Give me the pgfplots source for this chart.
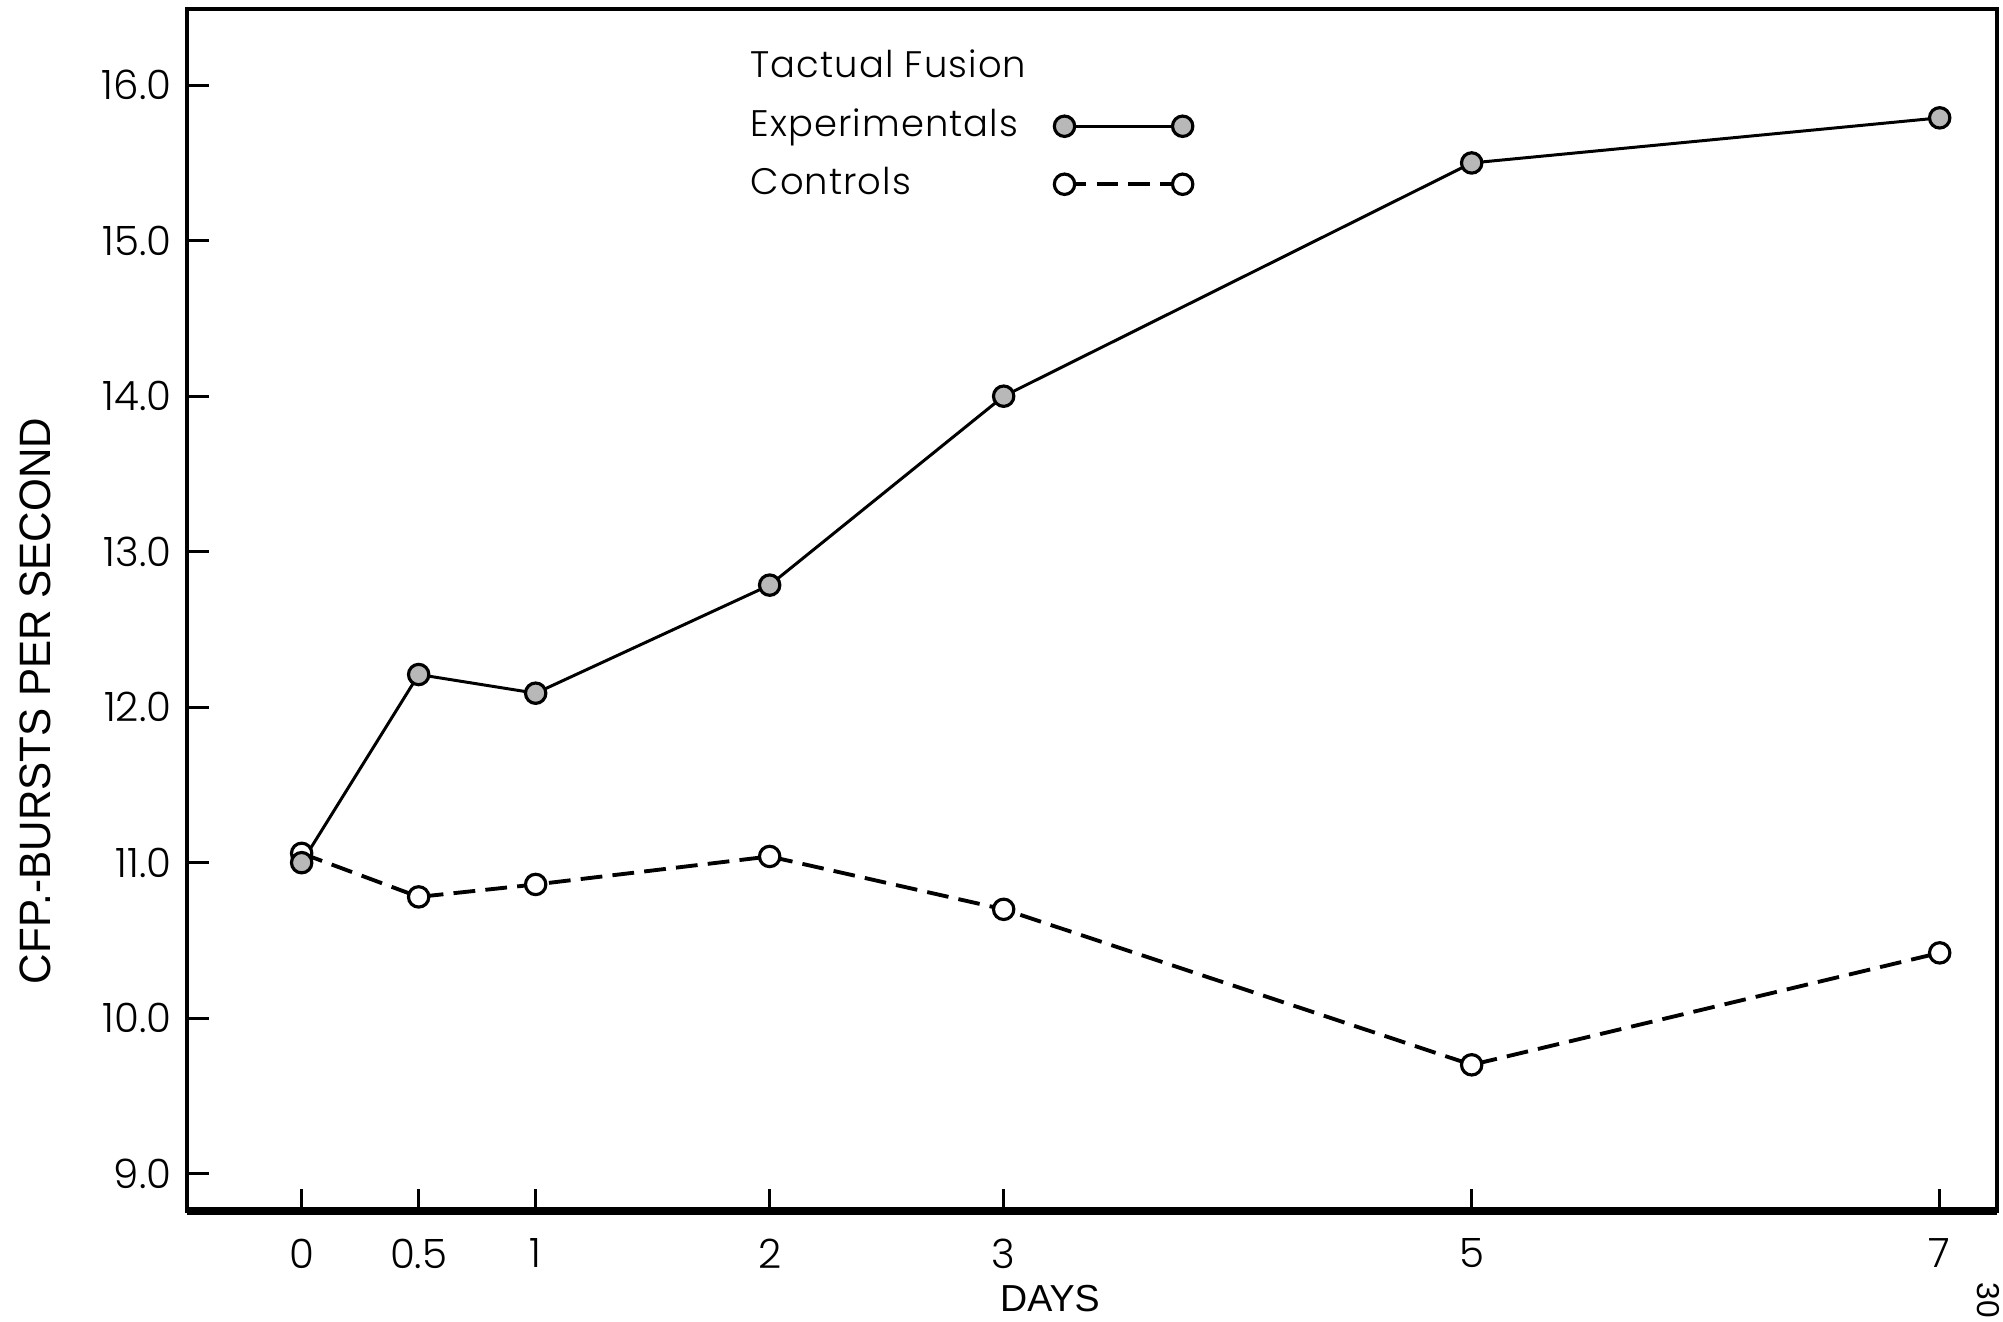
\documentclass[border=0pt]{standalone}
\usepackage{fontspec}
\setmainfont{Poppins}
\newfontfamily\tickfont{Poppins Light}
\newfontfamily\lib{Liberation Sans}
\newfontfamily\legfont{Poppins Light}[LetterSpace=3]
\usepackage{graphicx}
\usepackage{pgfplots}
\pgfplotsset{compat=1.18}
\definecolor{markgray}{gray}{0.72}
\begin{document}
\begin{tikzpicture}
\useasboundingbox (0,0) rectangle (20.03cm,13.22cm);
\begin{axis}[
  at={(1.87cm,1.11cm)}, anchor=south west,
  scale only axis, width=18.10cm, height=12.02cm,
  xmin=-0.49, xmax=7.245, ymin=8.76, ymax=16.49,
  xtick={0,0.5,1,2,3,5,7},
  xticklabels={0,0.5,1,2,3,5,7},
  ytick={9,10,11,12,13,14,15,16},
  yticklabels={9.0,10.0,11.0,12.0,13.0,14.0,15.0,16.0},
  xtick pos=bottom, ytick pos=left,
  tick align=inside,
  major tick length=0.22cm,
  every tick/.style={black, line width=0.8pt},
  axis line style={line width=1pt},
  tick label style={font=\tickfont\fontsize{11.5}{13}\selectfont, inner sep=0pt},
  yticklabel style={xshift=-0.15cm},
  xticklabel style={yshift=-0.27cm},
  clip=false,
]
% Controls
\addplot[black, line width=1.1pt, dash pattern=on 6.2pt off 2.9pt,
  mark=*, mark size=2.9pt, mark options={solid, fill=white, line width=0.9pt}]
  coordinates {(0,11.06) (0.5,10.78) (1,10.86) (2,11.04) (3,10.70) (5,9.70) (7,10.42)};
% Experimentals
\addplot[black, line width=0.85pt,
  mark=*, mark size=2.9pt, mark options={fill=markgray, line width=0.9pt}]
  coordinates {(0,11.0) (0.5,12.21) (1,12.09) (2,12.785) (3,14.0) (5,15.50) (7,15.79)};
% legend samples
\addplot[black, line width=0.85pt,
  mark=*, mark size=2.9pt, mark options={fill=markgray, line width=0.9pt}]
  coordinates {(3.26,15.736) (3.765,15.736)};
\addplot[black, line width=1.1pt, dash pattern=on 6.2pt off 2.9pt,
  mark=*, mark size=2.9pt, mark options={solid, fill=white, line width=0.9pt}]
  coordinates {(3.26,15.363) (3.765,15.363)};
\node[anchor=base west, inner sep=0pt, font=\legfont\fontsize{10.5}{12}\selectfont] at (axis cs:1.915,16.05) {Tactual Fusion};
\node[anchor=base west, inner sep=0pt, font=\legfont\fontsize{10.5}{12}\selectfont] at (axis cs:1.915,15.67) {Experimentals};
\node[anchor=base west, inner sep=0pt, font=\legfont\fontsize{10.5}{12}\selectfont] at (axis cs:1.915,15.30) {Controls};
\draw[line width=2pt] (rel axis cs:0,0) -- (rel axis cs:1,0);
\draw[line width=1.4pt] (rel axis cs:0,1) -- (rel axis cs:1,1);
\end{axis}
\node[rotate=90, inner sep=0pt, font=\lib\fontsize{12.5}{14}\selectfont] at (0.35cm,6.21cm) {\scalebox{0.96}[1]{CFP.-BURSTS PER SECOND}};
\node[anchor=base, inner sep=0pt, font=\lib\fontsize{10.7}{12}\selectfont] at (10.50cm,0.10cm) {DAYS};
\node[rotate=-90, anchor=west, inner sep=0pt, font=\lib\fontsize{9}{11}\selectfont] at (19.88cm,0.40cm) {30};
\end{tikzpicture}
\end{document}
